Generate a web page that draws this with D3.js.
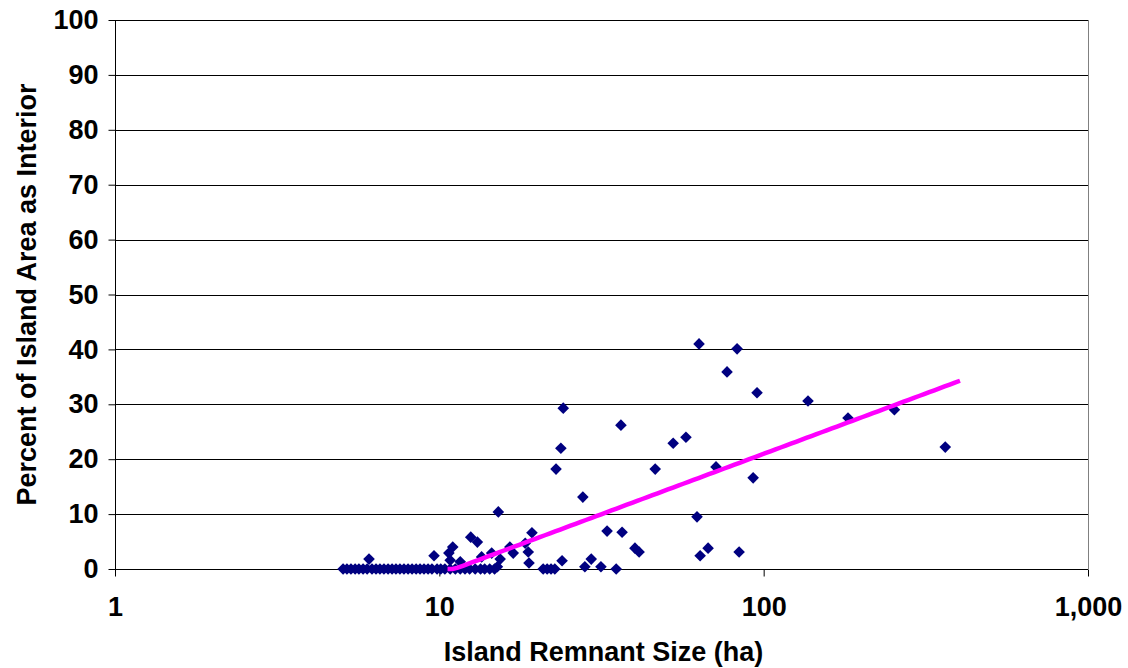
<!DOCTYPE html>
<html>
<head>
<meta charset="utf-8">
<script src="https://cdn.jsdelivr.net/npm/d3@7"></script>
<style>
  html, body { margin: 0; padding: 0; background: #fff; }
  svg text { font-family: "Liberation Sans", Arial, sans-serif; font-weight: bold; fill: #000; }
</style>
</head>
<body>
<svg id="chart" width="1128" height="668"></svg>
<script>
// Island remnant size (ha) and percent of island area that is interior habitat
const sizeHa = [
  5.05, 5.19, 5.34, 5.50, 5.65, 5.82, 5.99, 6.20, 6.38, 6.56, 6.75, 6.95, 7.15, 7.35,
  7.56, 7.78, 8.01, 8.24, 8.48, 8.72, 8.97, 9.23, 9.49, 9.84, 10.1, 10.4, 10.8, 11.2,
  11.6, 12.0, 12.4, 12.9, 13.4, 13.8, 14.3, 14.8, 20.9, 21.5, 22.1, 22.7, 35.1,
  6.07, 9.63, 10.7, 11.0, 10.8, 11.6, 12.5, 13.1, 13.5, 14.5, 15.4, 15.1, 15.2,
  16.5, 16.9, 18.4, 18.8, 18.9, 19.3, 23.9, 22.9, 23.7, 24.1, 27.7, 28.1, 29.4,
  31.5, 32.9, 36.6, 36.3, 40.1, 41.3, 46.3, 52.6, 57.6, 63.2, 62.3, 63.7, 67.4,
  71.3, 77.1, 82.8, 84.0, 92.8, 95.4, 137, 182, 253, 363
];
const pctInterior = [
  0, 0, 0, 0, 0, 0, 0, 0, 0, 0, 0, 0, 0, 0,
  0, 0, 0, 0, 0, 0, 0, 0, 0, 0, 0, 0, 0, 0,
  0, 0, 0, 0, 0, 0, 0, 0, 0, 0, 0, 0, 0,
  1.8, 2.4, 2.9, 4.0, 1.6, 1.3, 5.8, 4.9, 2.2, 2.9, 1.8, 0.4, 10.4,
  4.0, 2.9, 4.7, 3.1, 1.1, 6.6, 1.5, 18.2, 22.0, 29.3, 13.1, 0.4, 1.8,
  0.4, 6.9, 6.7, 26.2, 3.8, 3.1, 18.2, 22.9, 24.0, 41.0, 9.5, 2.4, 3.8,
  18.6, 35.9, 40.1, 3.1, 16.6, 32.1, 30.6, 27.5, 29.0, 22.2
];

// Logarithmic trend line: pct = trendA * ln(size) + trendB
const trendA = 9.55;
const trendB = -23.0;
const trendRange = [10.6, 403];

const xTicks = [1, 10, 100, 1000];
const xTickLabels = ["1", "10", "100", "1,000"];
const yTicks = [0, 10, 20, 30, 40, 50, 60, 70, 80, 90, 100];

const xTitle = "Island Remnant Size (ha)";
const yTitle = "Percent of Island Area as Interior";

const svg = d3.select("#chart");
const margin = { left: 115, right: 40, top: 20, bottom: 99 };
const W = 1128, H = 668;
const FONT = "27px";
const x = d3.scaleLog().domain([1, 1000]).range([margin.left, W - margin.right]);
const y = d3.scaleLinear().domain([0, 100]).range([H - margin.bottom, margin.top]);

// horizontal gridlines
svg.append("g")
  .selectAll("line")
  .data(yTicks.filter(d => d > 0))
  .join("line")
  .attr("x1", x.range()[0]).attr("x2", x.range()[1])
  .attr("y1", d => Math.round(y(d)) + 0.5).attr("y2", d => Math.round(y(d)) + 0.5)
  .attr("stroke", "#000").attr("stroke-width", 1);

// right border of plot area
svg.append("line")
  .attr("x1", Math.round(x(1000)) + 0.5).attr("x2", Math.round(x(1000)) + 0.5)
  .attr("y1", y(100)).attr("y2", y(0))
  .attr("stroke", "#808080").attr("stroke-width", 1);

// y axis
const yAxis = svg.append("g")
  .attr("transform", `translate(${x(1) + 0.5},0)`)
  .call(d3.axisLeft(y).tickValues(yTicks).tickSize(7).tickPadding(10).tickFormat(d3.format("d")));

// x axis
const xAxis = svg.append("g")
  .attr("transform", `translate(0,${Math.round(y(0)) + 0.5})`)
  .call(d3.axisBottom(x).tickValues(xTicks).tickSize(7).tickPadding(20)
    .tickFormat((d, i) => xTickLabels[i]));

[yAxis, xAxis].forEach(g => {
  g.select(".domain").attr("stroke", "#000").attr("stroke-width", 1);
  g.selectAll(".tick line").attr("stroke", "#000");
  g.selectAll("text").attr("fill", "#000")
    .style("font-size", FONT)
    .style("font-family", "'Liberation Sans', Arial, sans-serif").style("font-weight", "bold");
});
xAxis.select(".domain").attr("d", `M${x(1)},0H${x(1000)}`);
yAxis.select(".domain").attr("d", `M0,${y(0)}V${y(100)}`);

// data points (diamonds)
const pts = sizeHa.map((s, i) => ({ s, p: pctInterior[i] }));
const diamond = "M0,-5.8L5.8,0L0,5.8L-5.8,0Z";
svg.append("g")
  .selectAll("path")
  .data(pts)
  .join("path")
  .attr("d", diamond)
  .attr("transform", d => `translate(${x(d.s)},${y(d.p)})`)
  .attr("fill", "#000080");

// trend line
const trendPts = d3.range(0, 101).map(i => {
  const s = trendRange[0] * Math.pow(trendRange[1] / trendRange[0], i / 100);
  return { s, p: trendA * Math.log(s) + trendB };
});
svg.append("path")
  .datum(trendPts)
  .attr("d", d3.line().x(d => x(d.s)).y(d => y(Math.max(0, d.p))))
  .attr("fill", "none")
  .attr("stroke", "#FF00FF")
  .attr("stroke-width", 4.5);

// axis titles
svg.append("text")
  .attr("x", (x(1) + x(1000)) / 2 + 2).attr("y", 661)
  .attr("text-anchor", "middle")
  .style("font-size", FONT)
  .text(xTitle);
svg.append("text")
  .attr("transform", `translate(36,${(y(0) + y(100)) / 2}) rotate(-90)`)
  .attr("text-anchor", "middle")
  .style("font-size", FONT)
  .text(yTitle);
</script>
</body>
</html>
